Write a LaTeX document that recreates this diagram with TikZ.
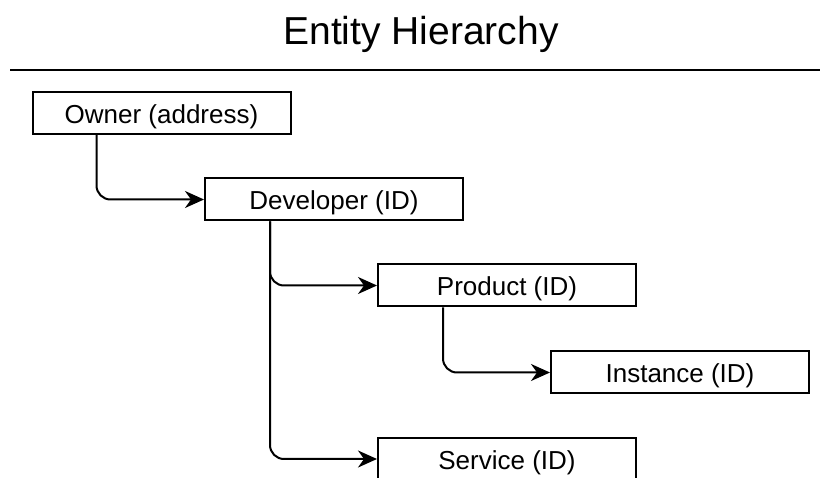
\documentclass[tikz,border=0pt]{standalone}
\usepackage{fontspec}
\setmainfont{Liberation Sans}
\usetikzlibrary{arrows.meta}

\begin{document}
\begin{tikzpicture}[x=1pt,y=-1pt,
		EntityBox/.style = {draw, line width=2pt, minimum width=258pt, minimum height=42pt, inner sep=0pt, text height=24pt, text depth=3pt, font=\fontsize{26}{30}\selectfont},
		Link/.style = {line width=2pt, rounded corners=14pt, -{Stealth[length=19pt,width=17pt,inset=6pt]}}]
	\useasboundingbox (0,0) rectangle (820,478);
	\node (title) at (421,34) {\fontsize{39}{45}\selectfont Entity Hierarchy};
	\coordinate (ruleL) at (10,70);
	\coordinate (ruleR) at (820,70);
	\draw[line width=2pt] (ruleL) -- (ruleR);
	% entities
		\node[EntityBox] (owner) at (161.5,113) {Owner (address)};
		\node[EntityBox] (dev) at (334,199.5) {Developer (ID)};
		\node[EntityBox] (prod) at (507,285.5) {Product (ID)};
		\node[EntityBox] (inst) at (680,372.5) {Instance (ID)};
		\node[EntityBox] (serv) at (507,459) {Service (ID)};
	% links
		\draw[Link] ([xshift=-65pt]owner.south) |- (dev.west);
		\draw[Link] ([xshift=-64pt]dev.south) |- (prod.west);
		\draw[Link] ([xshift=-64pt]dev.south) |- (serv.west);
		\draw[Link] ([xshift=-64pt]prod.south) |- (inst.west);
\end{tikzpicture}
\end{document}
